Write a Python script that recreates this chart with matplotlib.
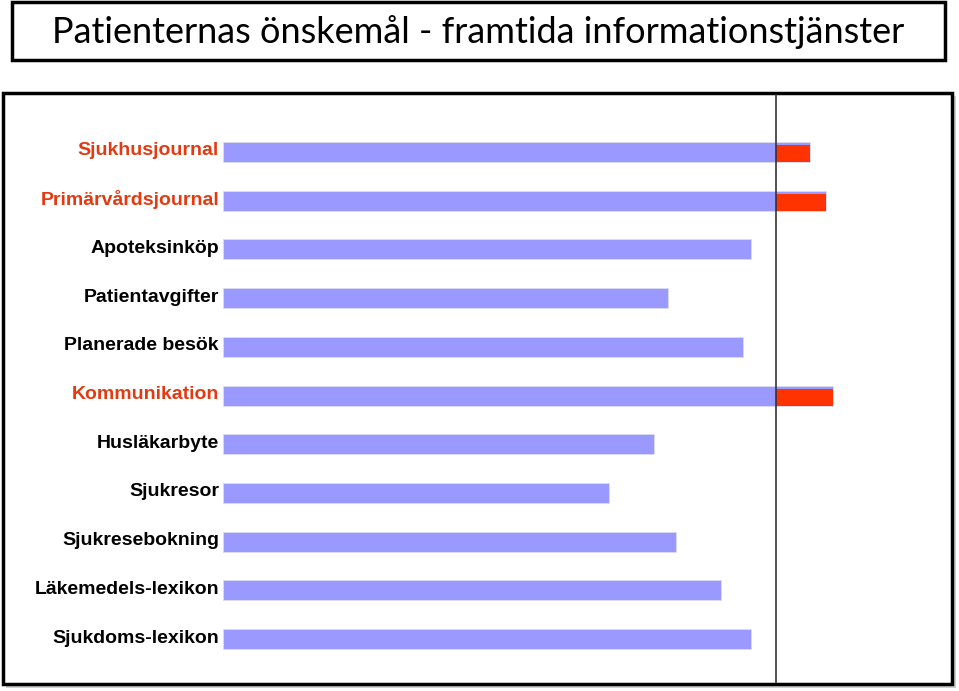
import matplotlib.pyplot as plt
from matplotlib.patches import Rectangle
from matplotlib.transforms import ScaledTranslation

plt.rcParams['font.family'] = ['Liberation Sans', 'DejaVu Sans']

categories = ['Sjukhusjournal', 'Primärvårdsjournal', 'Apoteksinköp', 'Patientavgifter',
              'Planerade besök', 'Kommunikation', 'Husläkarbyte', 'Sjukresor',
              'Sjukresebokning', 'Läkemedels-lexikon', 'Sjukdoms-lexikon']
values = [80.5, 82.7, 72.4, 61.0, 71.3, 83.7, 59.1, 52.9, 62.1, 68.3, 72.4]
threshold = 75.9
title = 'Patienternas önskemål - framtida informationstjänster'

W, H = 959, 691
fig = plt.figure(figsize=(W / 100, H / 100), dpi=100)

def fx(px):
    return px / W

def fy(py):
    return 1 - py / H

# title box
fig.patches.append(Rectangle((fx(12), fy(60)), fx(933), 58 / H, transform=fig.transFigure,
                             fill=False, edgecolor='black', linewidth=2.5))
fig.text(fx(478), fy(32), title, ha='center', va='center', fontsize=26,
         family=['Lato', 'Liberation Sans'])

# chart box shadow + frame
fig.patches.append(Rectangle((fx(6), fy(688)), fx(950), 592 / H, transform=fig.transFigure,
                             facecolor='#cfcfcf', edgecolor='none', zorder=0))
fig.patches.append(Rectangle((fx(3), fy(684)), fx(949), 591 / H, transform=fig.transFigure,
                             facecolor='white', edgecolor='black', linewidth=2.5, zorder=1))

ax = fig.add_axes([fx(223), fy(683), fx(952 - 223), (683 - 94) / H], zorder=2)
ax.patch.set_alpha(0)
ypos = list(range(len(categories)))
ax.barh(ypos, values, height=0.41, color='#9999ff', edgecolor='#dcdcf0', linewidth=0.6)
over = [max(v - threshold, 0) for v in values]
ax.barh([y + 0.03 for y in ypos], over, left=threshold, height=0.35, color='#ff3300')
ax.axvline(threshold, color='#333333', linewidth=1.2)

ax.set_xlim(0, 100)
ax.set_ylim(10.9, -1.19)
ax.set_yticks([])
ax.set_xticks([])
for s in ax.spines.values():
    s.set_visible(False)

lab_tr = ax.get_yaxis_transform() + ScaledTranslation(-4 / 100, 3 / 100, fig.dpi_scale_trans)
for y, name, v in zip(ypos, categories, values):
    ax.text(0, y, name, transform=lab_tr, ha='right', va='center_baseline',
            fontsize=14, fontweight='bold',
            color='#e33a12' if v > threshold else 'black')

fig.savefig('out.png', dpi=100)
